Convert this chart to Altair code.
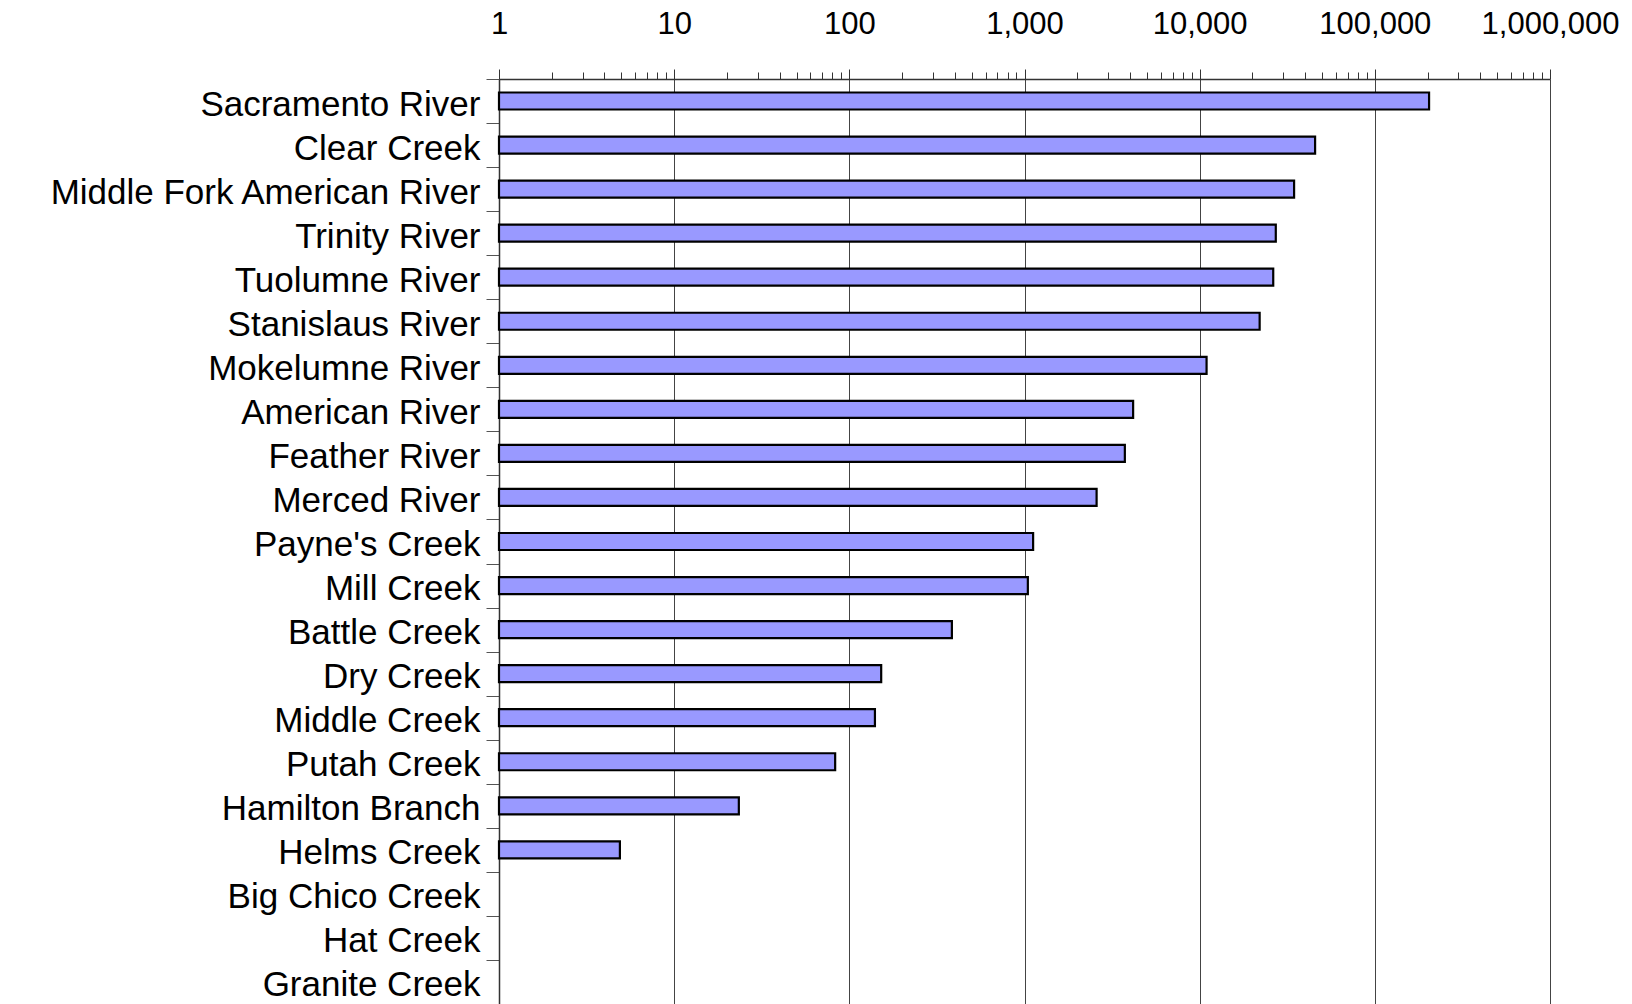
import altair as alt
import pandas as pd

rivers = [
    "Sacramento River", "Clear Creek", "Middle Fork American River", "Trinity River",
    "Tuolumne River", "Stanislaus River", "Mokelumne River", "American River",
    "Feather River", "Merced River", "Payne's Creek", "Mill Creek", "Battle Creek",
    "Dry Creek", "Middle Creek", "Putah Creek", "Hamilton Branch", "Helms Creek",
    "Big Chico Creek", "Hat Creek", "Granite Creek",
]
counts = [
    204000, 45600, 34600, 27200, 26300, 22000, 10950, 4170, 3740, 2580,
    1120, 1045, 385, 152, 140, 83, 23.4, 4.9, None, None, None,
]

major_ticks = [1, 10, 100, 1000, 10000, 100000, 1000000]
tick_values = [m * 10 ** e for e in range(0, 6) for m in range(1, 10)] + [1000000]

df = pd.DataFrame({"river": rivers, "count": counts})

major_test = "indexof([" + ",".join(str(v) for v in major_ticks) + "], datum.value) >= 0"

x = alt.X(
    "count:Q",
    scale=alt.Scale(type="log", domain=[1, 1000000], nice=False),
    axis=alt.Axis(
        orient="top",
        title=None,
        values=tick_values,
        labelExpr=f"{major_test} ? format(datum.value, ',') : ''",
        labelOverlap=False,
        labelFlush=False,
        labelFont="Liberation Sans",
        labelFontSize=31,
        labelColor="black",
        labelBaseline="alphabetic",
        labelPadding=36,
        tickSize={"condition": {"test": major_test, "value": 10}, "value": 7},
        tickColor="#333",
        tickWidth=1,
        domainColor="#333",
        domainWidth=1.5,
        grid=True,
        gridColor="#444",
        gridWidth=1,
        gridOpacity={"condition": {"test": major_test, "value": 1}, "value": 0},
        minExtent=79,
        maxExtent=79,
    ),
)

x2 = alt.datum(1)

y = alt.Y(
    "river:N",
    scale=alt.Scale(domain=rivers, paddingInner=0, paddingOuter=0),
    axis=alt.Axis(
        title=None,
        tickBand="extent",
        tickSize=13,
        tickColor="#555",
        domainColor="#333",
        domainWidth=1.5,
        labelPadding=6,
        labelFont="Liberation Sans",
        labelFontSize=35,
        labelColor="black",
        labelLimit=0,
        labelOffset=3,
        minExtent=499,
        maxExtent=499,
        grid=False,
    ),
)

chart = (
    alt.Chart(df)
    .transform_filter("isValid(datum.count)")
    .mark_bar(color="#9999FF", stroke="black", strokeWidth=2.2, size=17)
    .encode(x=x, x2=x2, y=y)
    .properties(width=1051, height=925, padding=0, background="white")
    .configure_view(stroke=None)
)

chart.save("out.html", embed_options={"renderer": "svg", "actions": False})
